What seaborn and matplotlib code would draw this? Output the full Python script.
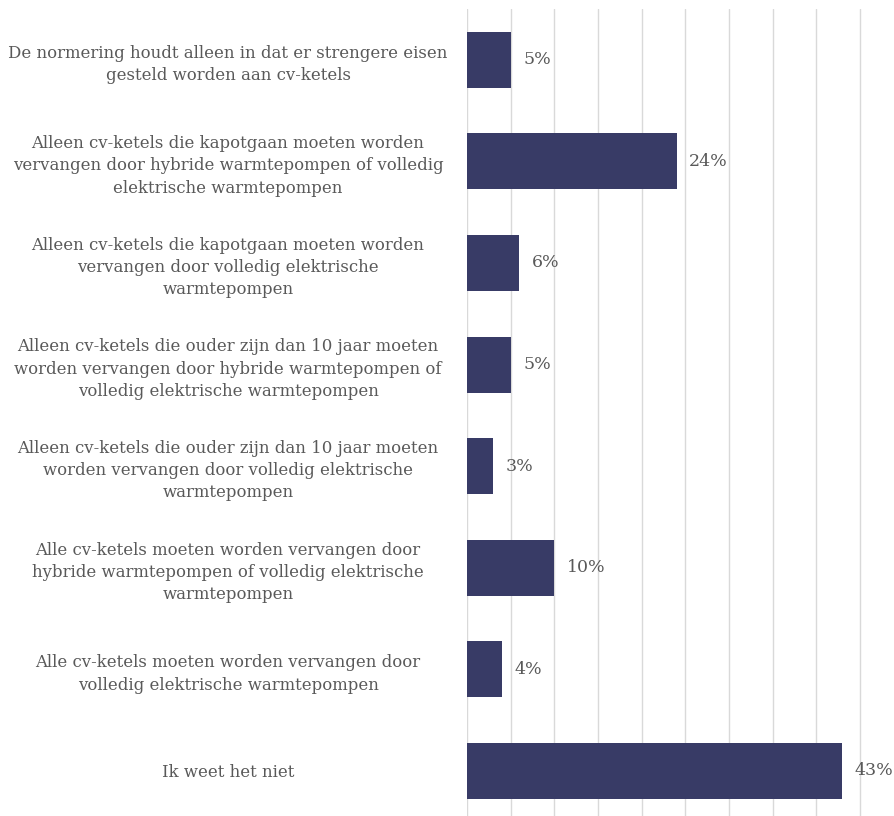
import matplotlib
matplotlib.use("Agg")
import matplotlib.pyplot as plt
import pandas as pd
import seaborn as sns

labels = [
    "De normering houdt alleen in dat er strengere eisen\ngesteld worden aan cv-ketels",
    "Alleen cv-ketels die kapotgaan moeten worden\nvervangen door hybride warmtepompen of volledig\nelektrische warmtepompen",
    "Alleen cv-ketels die kapotgaan moeten worden\nvervangen door volledig elektrische\nwarmtepompen",
    "Alleen cv-ketels die ouder zijn dan 10 jaar moeten\nworden vervangen door hybride warmtepompen of\nvolledig elektrische warmtepompen",
    "Alleen cv-ketels die ouder zijn dan 10 jaar moeten\nworden vervangen door volledig elektrische\nwarmtepompen",
    "Alle cv-ketels moeten worden vervangen door\nhybride warmtepompen of volledig elektrische\nwarmtepompen",
    "Alle cv-ketels moeten worden vervangen door\nvolledig elektrische warmtepompen",
    "Ik weet het niet",
]
values = [5, 24, 6, 5, 3, 10, 4, 43]
grid_ticks = [0, 5, 10, 15, 20, 25, 30, 35, 40, 45]

sns.set_style("white")
plt.rcParams["font.family"] = ["DejaVu Serif"]

df = pd.DataFrame({"label": labels, "value": values})

W, H = 894, 816
fig = plt.figure(figsize=(W / 100, H / 100), dpi=100)
# axes: left edge at x=467px, top at y=9px, reaching the bottom of the figure
ax = fig.add_axes([467 / W, 0, 1 - 467 / W, (H - 9) / H])

sns.barplot(data=df, x="value", y="label", orient="h", color="#383b66",
            saturation=1, width=0.55, linewidth=0, ax=ax, zorder=3)

ax.set_xlim(0, (W - 467) / 8.73)
ax.set_ylim(-0.5 + (H - 9) / 101.6, -0.5)
ax.set_xticks(grid_ticks)
ax.set_xticklabels([])
ax.tick_params(axis="x", length=0)
ax.grid(axis="x", color="#d9d9d9", linewidth=1.0, zorder=0)
ax.grid(axis="y", visible=False)
for s in ax.spines.values():
    s.set_visible(False)
ax.set_xlabel("")
ax.set_ylabel("")

# category labels centred at x ~ 228px
ax.tick_params(axis="y", length=0, pad=(467 - 228) * 0.72, labelsize=11.9,
               labelcolor="#595959")
for t in ax.get_yticklabels():
    t.set_ha("center")
    t.set_multialignment("center")
    t.set_linespacing(1.4)

ax.bar_label(ax.containers[0], fmt="%d%%", padding=9, fontsize=12.5,
             color="#595959")

fig.savefig("out.png", dpi=100)
